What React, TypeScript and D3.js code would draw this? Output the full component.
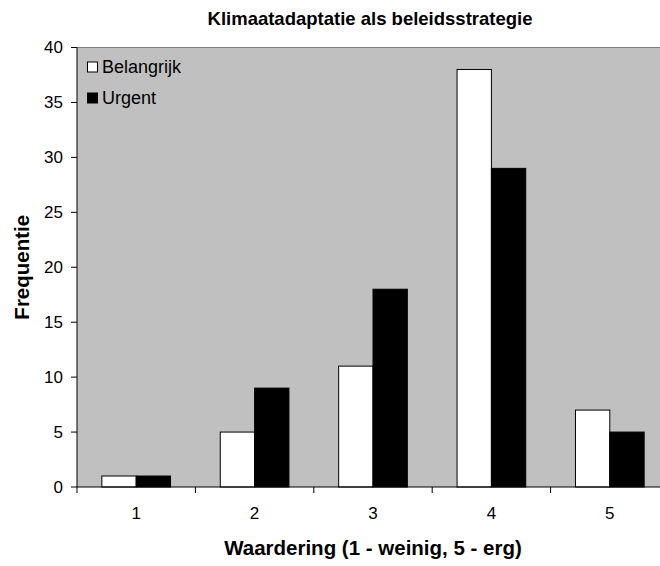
import React from "react";
import * as d3 from "d3";

const categories = ["1", "2", "3", "4", "5"];
const belangrijk = [1, 5, 11, 38, 7];
const urgent = [1, 9, 18, 29, 5];
const yTicks = [0, 5, 10, 15, 20, 25, 30, 35, 40];
const seriesNames = ["Belangrijk", "Urgent"];
const seriesColors = ["#ffffff", "#000000"];

const W = 660;
const H = 566;
const M = { left: 77, top: 47.5, right: 669, bottom: 487 };
const FONT = "'Liberation Sans', Arial, sans-serif";

export default function App() {
  const x = d3.scaleBand<string>().domain(categories).range([M.left, M.right]);
  const y = d3.scaleLinear().domain([0, 40]).range([M.bottom, M.top]);
  const bw = x.bandwidth() * 0.29;
  const series = [belangrijk, urgent];
  const cxMid = (M.left + M.right) / 2;

  return (
    <svg width={W} height={H} style={{ position: "absolute", left: 0, top: 0 }} fontFamily={FONT}>
      <rect x={0} y={0} width={W} height={H} fill="#ffffff" />
      <text x={cxMid - 3} y={25} textAnchor="middle" fontSize={18.5} fontWeight="bold" fill="#000">
        Klimaatadaptatie als beleidsstrategie
      </text>
      <rect x={M.left} y={M.top} width={M.right - M.left} height={M.bottom - M.top} fill="#c0c0c0" />
      <line x1={M.left} x2={M.right} y1={M.top} y2={M.top} stroke="#808080" strokeWidth={1} />
      {categories.map((c, i) =>
        series.map((s, j) => {
          const cx = (x(c) as number) + x.bandwidth() / 2;
          const bx = j === 0 ? cx - bw : cx;
          return (
            <rect
              key={c + "-" + j}
              x={bx}
              y={y(s[i])}
              width={bw}
              height={y(0) - y(s[i])}
              fill={seriesColors[j]}
              stroke="#000"
              strokeWidth={1}
            />
          );
        })
      )}
      <line x1={M.left} x2={M.left} y1={M.top} y2={M.bottom} stroke="#000" strokeWidth={1} />
      <line x1={M.left} x2={M.right} y1={M.bottom} y2={M.bottom} stroke="#000" strokeWidth={1} />
      {yTicks.map((t) => (
        <g key={t}>
          <line x1={M.left - 6} x2={M.left} y1={y(t)} y2={y(t)} stroke="#000" />
          <text x={M.left - 14} y={y(t)} dy="0.35em" textAnchor="end" fontSize={17} fill="#000">
            {t}
          </text>
        </g>
      ))}
      {categories.map((c, i) => (
        <g key={c}>
          <line
            x1={x(c) as number}
            x2={x(c) as number}
            y1={M.bottom}
            y2={M.bottom + 6}
            stroke="#000"
          />
          <text
            x={(x(c) as number) + x.bandwidth() / 2}
            y={513}
            dy="0.35em"
            textAnchor="middle"
            fontSize={17}
            fill="#000"
          >
            {c}
          </text>
        </g>
      ))}
      <text x={cxMid} y={548} dy="0.35em" textAnchor="middle" fontSize={20.5} fontWeight="bold" fill="#000">
        Waardering (1 - weinig, 5 - erg)
      </text>
      <text
        transform={`translate(22,${(M.top + M.bottom) / 2}) rotate(-90)`}
        dy="0.35em"
        textAnchor="middle"
        fontSize={20.5}
        fontWeight="bold"
        fill="#000"
      >
        Frequentie
      </text>
      {seriesNames.map((n, j) => (
        <g key={n}>
          <rect x={87.5} y={62 + j * 31} width={10} height={10} fill={seriesColors[j]} stroke="#000" />
          <text x={102} y={67 + j * 31} dy="0.35em" fontSize={18} fill="#000">
            {n}
          </text>
        </g>
      ))}
    </svg>
  );
}
